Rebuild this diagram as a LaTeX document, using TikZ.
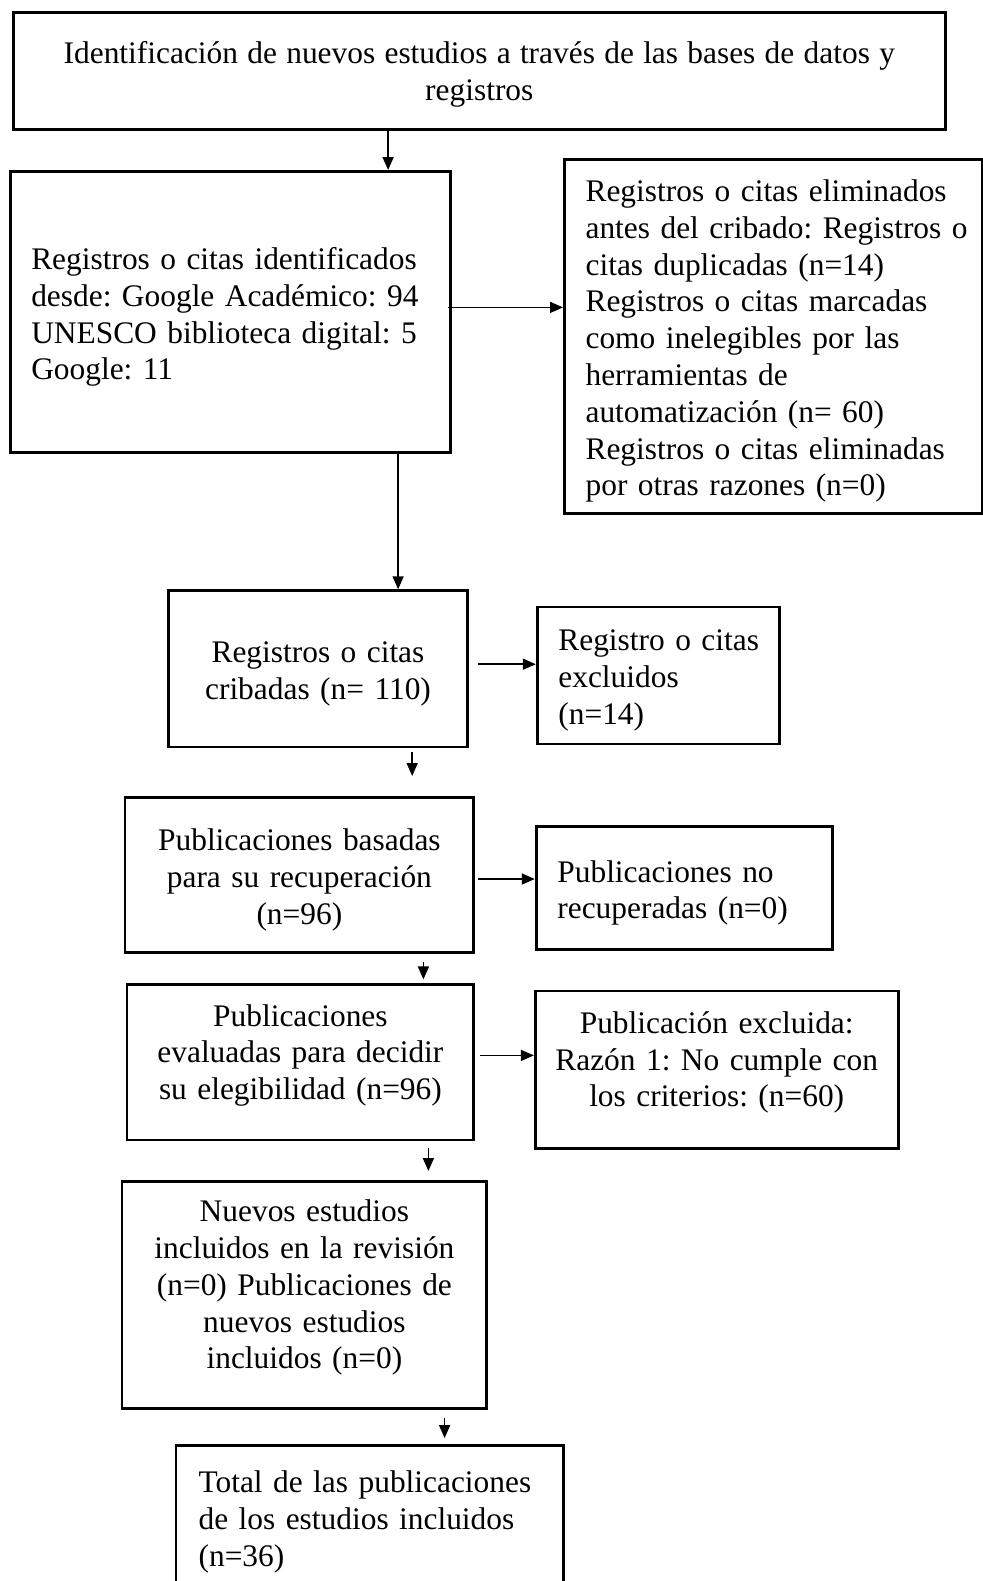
\documentclass[tikz,border=0pt]{standalone}
\usepackage{fontspec}
\setmainfont{Liberation Serif}
\usetikzlibrary{arrows.meta,shapes}
\frenchspacing

\begin{document}
\begin{tikzpicture}[x=0.5pt,y=-0.5pt]
\tikzstyle{every node}=[font=\fontsize{15.7}{18.4}\selectfont\frenchspacing]
\tikzstyle{caja}=[draw,line width=1.4pt,inner xsep=0pt,inner ysep=0pt,align=center,execute at end node={\endgraf\vspace*{-5pt}}]
\tikzstyle{cajaizq}=[caja,align=left,execute at begin node={\leftskip=10.6pt\relax}]
\tikzstyle{subir}=[execute at end node={\endgraf\vspace*{#1}}]
\tikzstyle{flecha}=[line width=0.8pt,-{Triangle[length=6.5pt,width=5.5pt]}]
\useasboundingbox (0,0) rectangle (983,1581);
\clip (0,0) rectangle (983,1581);
\node[caja,subir=1.5pt,text width=466.2pt,minimum height=58.5pt,execute at begin node={\spaceskip=4.65pt\relax}] (inicio) at (479.3,70.6)
 {Identificación de nuevos estudios a través de las bases de datos y\\registros};
\node[cajaizq,text width=220.2pt,minimum height=140.6pt] (identif) at (230.3,312)
 {Registros o citas identificados\\desde: Google Académico: 94\\UNESCO biblioteca digital: 5\\Google: 11};
\node[cajaizq,text width=209.2pt,minimum height=176.9pt] (elim) at (773.6,336.2)
 {Registros o citas eliminados\\antes del cribado: Registros o\\citas duplicadas (n=14)\\Registros o citas marcadas\\como inelegibles por las\\herramientas de\\automatización (n= 60)\\Registros o citas eliminadas\\por otras razones (n=0)};
\node[caja,text width=149.7pt,minimum height=78.1pt] (cribadas) at (318,668.8)
 {Registros o citas\\cribadas (n= 110)};
\node[cajaizq,text width=121pt,minimum height=68.5pt] (excluidos) at (658.2,675.4)
 {Registro o citas\\excluidos\\(n=14)};
\node[caja,text width=174.4pt,minimum height=77.6pt] (basadas) at (299.4,875)
 {Publicaciones basadas\\para su recuperación\\(n=96)};
\node[cajaizq,text width=148.2pt,minimum height=61.5pt] (norec) at (684.4,888)
 {Publicaciones no\\recuperadas (n=0)};
\node[caja,subir=12pt,text width=173.4pt,minimum height=77.6pt] (evaluadas) at (300.4,1062.4)
 {Publicaciones\\evaluadas para decidir\\su elegibilidad (n=96)};
\node[caja,subir=12pt,text width=181.4pt,minimum height=78.6pt] (pubexcl) at (716.7,1069.5)
 {Publicación excluida:\\Razón 1: No cumple con\\los criterios: (n=60)};
\node[caja,subir=12pt,text width=182.4pt,minimum height=113.4pt] (nuevos) at (304.4,1294.8)
 {Nuevos estudios\\incluidos en la revisión\\(n=0) Publicaciones de\\nuevos estudios\\incluidos (n=0)};
\node[cajaizq,subir=3pt,draw=none,text width=192.5pt,minimum height=73.6pt] (total) at (369.9,1520.1)
 {Total de las publicaciones\\de los estudios incluidos\\(n=36)};
\draw[line width=1.4pt] (total.south west) -- (total.north west) -- (total.north east) -- (total.south east);

\draw[flecha] ([xshift=-45.6pt]inicio.south) -- ([xshift=-45.6pt]inicio.south |- identif.north);
\draw[flecha,shorten <=-2pt] ([yshift=2.3pt]identif.east) -- ([yshift=2.3pt]identif.east -| elim.west);
\draw[flecha] ([xshift=83.9pt]identif.south) -- ([xshift=83.9pt]identif.south |- cribadas.north);
\draw[flecha,shorten <=4.5pt] ([yshift=2.3pt]cribadas.east) -- ([yshift=2.3pt]cribadas.east -| excluidos.west);
\draw[flecha,shorten <=2pt,shorten >=10pt] ([xshift=47.1pt]cribadas.south) -- ([xshift=47.1pt]cribadas.south |- basadas.north);
\draw[flecha,shorten <=1.5pt] ([yshift=-2pt]basadas.east) -- ([yshift=-2pt]basadas.east -| norec.west);
\draw[flecha,shorten <=4pt,shorten >=2pt] ([xshift=62pt]basadas.south) -- ([xshift=62pt]basadas.south |- evaluadas.north);
\draw[flecha,shorten <=2.5pt] ([yshift=3.5pt]evaluadas.east) -- ([yshift=3.5pt]evaluadas.east -| pubexcl.west);
\draw[flecha,shorten <=3.5pt,shorten >=4.5pt] ([xshift=64pt]evaluadas.south) -- ([xshift=64pt]evaluadas.south |- nuevos.north);
\draw[flecha,shorten <=4pt,shorten >=3.5pt] ([xshift=70.1pt]nuevos.south) -- ([xshift=70.1pt]nuevos.south |- total.north);
\end{tikzpicture}
\end{document}
